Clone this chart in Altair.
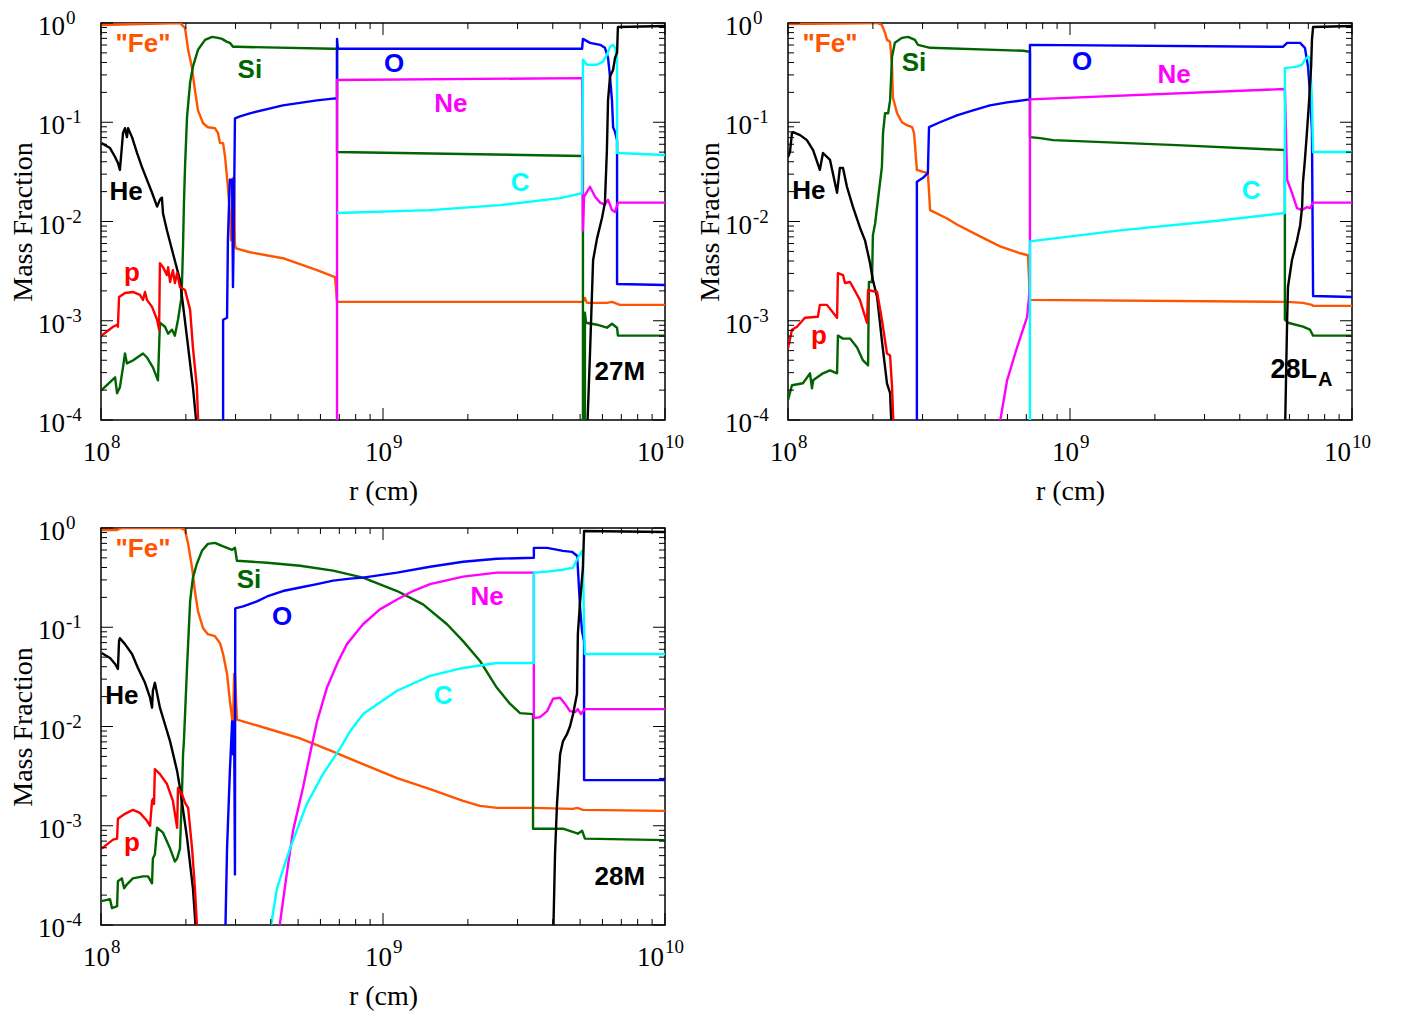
import altair as alt
import pandas as pd

# ---------------------------------------------------------------
# Data: (log10 r [cm], log10 mass fraction)
# ---------------------------------------------------------------

# ---- panel 1 : 27M ----
P1_FE = [(8.002, -0.02), (8.280, 0.0), (8.298, -0.05), (8.309, -0.27), (8.322, -0.44), (8.333, -0.675),
         (8.344, -0.88), (8.362, -1.01), (8.379, -1.05), (8.404, -1.06), (8.415, -1.11), (8.422, -1.21),
         (8.433, -1.21), (8.440, -1.35), (8.450, -1.65), (8.457, -1.92), (8.461, -2.19), (8.465, -2.11),
         (8.468, -1.56), (8.472, -1.56), (8.475, -2.24), (8.479, -2.27), (8.528, -2.31), (8.645, -2.37),
         (8.766, -2.49), (8.830, -2.56), (8.837, -2.81), (9.709, -2.81), (9.716, -2.77), (9.723, -2.82),
         (9.794, -2.82), (9.812, -2.81), (9.840, -2.84), (10.0, -2.84)]
P1_SI = [(8.002, -3.70), (8.050, -3.57), (8.057, -3.73), (8.067, -3.67), (8.078, -3.47), (8.085, -3.33),
         (8.092, -3.43), (8.113, -3.40), (8.149, -3.33), (8.163, -3.37), (8.184, -3.47), (8.202, -3.60),
         (8.209, -3.02), (8.227, -3.06), (8.238, -3.13), (8.252, -3.09), (8.262, -3.15), (8.273, -2.99),
         (8.284, -2.79), (8.287, -2.64), (8.291, -2.24), (8.294, -1.83), (8.298, -1.45), (8.305, -0.95),
         (8.316, -0.60), (8.326, -0.44), (8.344, -0.27), (8.369, -0.17), (8.394, -0.14), (8.415, -0.15),
         (8.429, -0.16), (8.447, -0.19), (8.457, -0.20), (8.468, -0.24), (8.482, -0.24), (8.823, -0.26),
         (8.837, -0.26), (8.837, -1.30), (9.709, -1.34), (9.709, -4.2), (9.716, -4.2), (9.716, -2.92),
         (9.720, -3.02), (9.759, -3.04), (9.794, -3.07), (9.812, -3.03), (9.830, -3.07), (9.833, -3.15),
         (10.0, -3.15)]
P1_O = [(8.433, -4.2), (8.433, -2.99), (8.447, -2.97), (8.450, -2.19), (8.457, -1.58), (8.465, -1.58),
        (8.468, -2.66), (8.472, -1.78), (8.475, -0.96), (8.493, -0.94), (8.528, -0.91), (8.645, -0.83),
        (8.766, -0.78), (8.830, -0.76), (8.837, -0.76), (8.837, -0.16), (8.840, -0.26), (9.706, -0.26),
        (9.709, -0.16), (9.734, -0.20), (9.770, -0.22), (9.787, -0.25), (9.798, -0.35), (9.805, -0.54),
        (9.812, -0.78), (9.816, -1.05), (9.823, -1.10), (9.830, -1.18), (9.830, -2.63), (10.0, -2.64)]
P1_NE = [(8.837, -4.2), (8.837, -0.575), (9.706, -0.555), (9.709, -2.09), (9.713, -1.75), (9.734, -1.65),
         (9.752, -1.75), (9.770, -1.81), (9.787, -1.83), (9.798, -1.78), (9.812, -1.885), (9.823, -1.905),
         (9.833, -1.81), (10.0, -1.81)]
P1_C = [(8.837, -1.915), (9.167, -1.885), (9.415, -1.835), (9.628, -1.765), (9.706, -1.715), (9.709, -0.37),
        (9.723, -0.42), (9.759, -0.42), (9.780, -0.39), (9.794, -0.32), (9.805, -0.24), (9.816, -0.22),
        (9.823, -0.25), (9.830, -0.35), (9.830, -1.31), (10.0, -1.33)]
P1_HE_IN = [(8.002, -1.21), (8.032, -1.26), (8.050, -1.35), (8.060, -1.41), (8.067, -1.48), (8.074, -1.25),
            (8.078, -1.11), (8.085, -1.06), (8.092, -1.15), (8.096, -1.06), (8.110, -1.15), (8.128, -1.31),
            (8.145, -1.45), (8.163, -1.58), (8.181, -1.71), (8.199, -1.85), (8.209, -1.78), (8.216, -1.76),
            (8.220, -1.92), (8.234, -2.09), (8.255, -2.32), (8.280, -2.59), (8.305, -3.17), (8.326, -3.67),
            (8.344, -4.2)]
P1_HE_OUT = [(9.723, -4.2), (9.734, -3.33), (9.745, -2.39), (9.759, -2.17), (9.777, -1.96), (9.787, -1.81),
             (9.794, -1.28), (9.798, -0.78), (9.805, -0.54), (9.816, -0.47), (9.823, -0.35), (9.830, -0.30),
             (9.833, -0.04), (10.0, -0.03)]
P1_P = [(8.002, -3.15), (8.043, -3.06), (8.057, -3.04), (8.060, -3.06), (8.064, -2.76), (8.085, -2.72),
        (8.113, -2.71), (8.138, -2.74), (8.149, -2.79), (8.156, -2.71), (8.163, -2.79), (8.181, -2.86),
        (8.199, -2.99), (8.206, -3.09), (8.209, -2.42), (8.220, -2.46), (8.234, -2.54), (8.238, -2.46),
        (8.245, -2.61), (8.255, -2.49), (8.262, -2.62), (8.270, -2.52), (8.280, -2.66), (8.298, -2.69),
        (8.316, -2.89), (8.326, -3.27), (8.340, -3.67), (8.347, -4.2)]

# ---- panel 2 : 28L_A ----
P2_FE = [(8.0, -0.01), (8.316, 0.0), (8.333, -0.02), (8.344, -0.10), (8.351, -0.17), (8.362, -0.19),
         (8.369, -0.44), (8.372, -0.75), (8.387, -0.91), (8.404, -1.0), (8.422, -1.03), (8.440, -1.05),
         (8.447, -1.11), (8.457, -1.48), (8.479, -1.50), (8.496, -1.51), (8.504, -1.885), (8.564, -1.97),
         (8.599, -2.03), (8.681, -2.15), (8.752, -2.25), (8.823, -2.32), (8.851, -2.34), (8.858, -2.79),
         (9.755, -2.81), (9.770, -2.81), (9.826, -2.82), (9.858, -2.84), (9.862, -2.85), (10.0, -2.85)]
P2_SI = [(8.0, -3.80), (8.014, -3.65), (8.053, -3.63), (8.078, -3.53), (8.085, -3.68), (8.089, -3.60),
         (8.124, -3.53), (8.149, -3.50), (8.174, -3.53), (8.177, -3.15), (8.195, -3.18), (8.220, -3.18),
         (8.245, -3.27), (8.266, -3.40), (8.284, -3.45), (8.287, -2.61), (8.298, -2.61), (8.301, -2.14),
         (8.309, -2.02), (8.319, -1.78), (8.333, -1.45), (8.337, -1.11), (8.344, -0.91), (8.355, -0.91),
         (8.362, -0.78), (8.369, -0.34), (8.379, -0.20), (8.404, -0.15), (8.426, -0.14), (8.450, -0.17),
         (8.461, -0.22), (8.504, -0.25), (8.833, -0.28), (8.858, -0.29), (8.858, -1.15), (8.894, -1.16),
         (8.940, -1.18), (9.379, -1.23), (9.762, -1.28), (9.762, -2.99), (9.773, -3.02), (9.826, -3.06),
         (9.851, -3.09), (9.862, -3.15), (10.0, -3.15)]
P2_O = [(8.457, -4.2), (8.457, -1.60), (8.479, -1.56), (8.496, -1.51), (8.500, -1.05), (8.539, -1.0),
        (8.599, -0.93), (8.656, -0.88), (8.716, -0.83), (8.777, -0.80), (8.858, -0.77), (8.858, -0.22),
        (9.755, -0.24), (9.770, -0.20), (9.816, -0.20), (9.833, -0.25), (9.844, -0.44), (9.851, -0.71),
        (9.858, -1.08), (9.862, -2.75), (10.0, -2.76)]
P2_NE = [(8.741, -4.2), (8.777, -3.60), (8.812, -3.27), (8.848, -2.96), (8.858, -2.66), (8.858, -0.77),
         (9.762, -0.665), (9.770, -1.58), (9.787, -1.71), (9.805, -1.865), (9.823, -1.885), (9.840, -1.855),
         (9.851, -1.865), (9.862, -1.81), (10.0, -1.81)]
P2_C = [(8.858, -4.2), (8.858, -2.20), (9.177, -2.09), (9.532, -1.99), (9.762, -1.915), (9.762, -0.455),
        (9.805, -0.44), (9.823, -0.42), (9.833, -0.37), (9.844, -0.34), (9.851, -0.35), (9.858, -0.78),
        (9.862, -1.30), (10.0, -1.30)]
P2_HE_IN = [(8.0, -1.35), (8.007, -1.30), (8.014, -1.11), (8.018, -1.10), (8.043, -1.13), (8.067, -1.18),
            (8.089, -1.28), (8.113, -1.48), (8.124, -1.31), (8.149, -1.38), (8.174, -1.71), (8.184, -1.46),
            (8.195, -1.46), (8.209, -1.65), (8.230, -1.85), (8.255, -2.06), (8.273, -2.19), (8.291, -2.42),
            (8.301, -2.59), (8.316, -2.76), (8.333, -3.20), (8.351, -3.63), (8.362, -3.73), (8.369, -4.2)]
P2_HE_OUT = [(9.762, -4.2), (9.770, -2.99), (9.773, -2.66), (9.787, -2.39), (9.805, -2.19), (9.816, -2.04),
             (9.823, -1.855), (9.826, -1.61), (9.833, -1.38), (9.840, -1.11), (9.848, -0.78), (9.855, -0.44),
             (9.858, -0.17), (9.862, -0.04), (10.0, -0.03)]
P2_P = [(8.0, -3.28), (8.014, -3.09), (8.032, -3.06), (8.060, -2.97), (8.106, -2.96), (8.113, -2.84),
        (8.138, -2.84), (8.174, -2.97), (8.177, -2.52), (8.195, -2.54), (8.202, -2.62), (8.220, -2.61),
        (8.230, -2.66), (8.255, -2.79), (8.280, -3.02), (8.284, -2.69), (8.316, -2.71), (8.333, -2.99),
        (8.351, -3.33), (8.362, -3.35), (8.369, -3.67), (8.376, -4.2)]

# ---- panel 3 : 28M ----
P3_FE = [(8.002, -0.02), (8.057, -0.02), (8.074, 0.0), (8.280, 0.0), (8.298, -0.02), (8.309, -0.16),
         (8.323, -0.40), (8.333, -0.635), (8.344, -0.84), (8.362, -1.01), (8.379, -1.07), (8.404, -1.09),
         (8.422, -1.16), (8.433, -1.27), (8.447, -1.47), (8.457, -1.74), (8.465, -1.915), (8.468, -2.05),
         (8.472, -1.47), (8.475, -1.47), (8.482, -1.93), (8.589, -2.02), (8.706, -2.12), (8.812, -2.24),
         (8.929, -2.38), (9.050, -2.52), (9.167, -2.63), (9.284, -2.75), (9.344, -2.80), (9.404, -2.82),
         (9.532, -2.82), (9.674, -2.83), (9.688, -2.82), (9.709, -2.84), (10.0, -2.85)]
P3_SI = [(8.002, -3.76), (8.032, -3.74), (8.039, -3.83), (8.057, -3.81), (8.060, -3.56), (8.074, -3.53),
         (8.082, -3.63), (8.092, -3.59), (8.113, -3.53), (8.149, -3.51), (8.167, -3.51), (8.181, -3.58),
         (8.184, -3.33), (8.191, -3.29), (8.199, -3.02), (8.220, -3.07), (8.245, -3.23), (8.262, -3.36),
         (8.270, -3.33), (8.280, -3.23), (8.287, -2.68), (8.291, -2.28), (8.294, -2.15), (8.305, -1.41),
         (8.316, -0.74), (8.326, -0.50), (8.340, -0.36), (8.358, -0.23), (8.379, -0.16), (8.404, -0.15),
         (8.429, -0.18), (8.447, -0.20), (8.465, -0.22), (8.475, -0.20), (8.482, -0.33), (8.589, -0.35),
         (8.706, -0.38), (8.823, -0.43), (8.929, -0.50), (9.050, -0.635), (9.142, -0.77), (9.227, -0.97),
         (9.284, -1.14), (9.344, -1.34), (9.404, -1.61), (9.450, -1.77), (9.486, -1.865), (9.532, -1.875),
         (9.532, -3.03), (9.546, -3.03), (9.638, -3.03), (9.681, -3.07), (9.691, -3.08), (9.706, -3.05),
         (9.716, -3.13), (10.0, -3.145)]
P3_O = [(8.440, -4.2), (8.447, -3.23), (8.457, -2.45), (8.465, -1.95), (8.468, -2.28), (8.472, -1.95),
        (8.475, -3.49), (8.476, -0.81), (8.504, -0.79), (8.553, -0.74), (8.589, -0.69), (8.645, -0.635),
        (8.706, -0.60), (8.766, -0.565), (8.823, -0.53), (8.883, -0.51), (8.929, -0.50), (9.050, -0.45),
        (9.167, -0.39), (9.284, -0.34), (9.404, -0.31), (9.535, -0.30), (9.535, -0.20), (9.582, -0.20),
        (9.638, -0.23), (9.670, -0.24), (9.688, -0.28), (9.691, -0.40), (9.699, -0.81), (9.706, -1.04),
        (9.713, -1.14), (9.713, -2.54), (10.0, -2.54)]
P3_NE = [(8.624, -4.2), (8.660, -3.46), (8.681, -3.05), (8.716, -2.62), (8.741, -2.28), (8.766, -1.95),
         (8.801, -1.61), (8.840, -1.35), (8.872, -1.17), (8.929, -0.97), (8.989, -0.82), (9.050, -0.72),
         (9.106, -0.635), (9.167, -0.565), (9.284, -0.49), (9.404, -0.45), (9.535, -0.45), (9.535, -1.915),
         (9.557, -1.905), (9.582, -1.845), (9.603, -1.72), (9.628, -1.71), (9.645, -1.77), (9.663, -1.845),
         (9.681, -1.855), (9.691, -1.825), (9.702, -1.875), (9.709, -1.845), (9.716, -1.825), (10.0, -1.825)]
P3_C = [(8.592, -4.2), (8.624, -3.63), (8.670, -3.23), (8.730, -2.78), (8.787, -2.48), (8.848, -2.22),
        (8.883, -2.05), (8.929, -1.875), (9.050, -1.64), (9.167, -1.49), (9.284, -1.41), (9.404, -1.36),
        (9.535, -1.36), (9.535, -0.45), (9.582, -0.44), (9.638, -0.42), (9.674, -0.40), (9.691, -0.30),
        (9.706, -0.23), (9.709, -0.33), (9.713, -1.01), (9.716, -1.27), (10.0, -1.27)]
P3_HE_IN = [(8.002, -1.26), (8.032, -1.31), (8.050, -1.37), (8.060, -1.42), (8.064, -1.14), (8.067, -1.11),
            (8.085, -1.17), (8.110, -1.27), (8.131, -1.41), (8.156, -1.56), (8.174, -1.71), (8.181, -1.81),
            (8.184, -1.64), (8.191, -1.56), (8.199, -1.67), (8.209, -1.81), (8.227, -1.98), (8.245, -2.15),
            (8.270, -2.45), (8.280, -2.62), (8.305, -3.12), (8.326, -3.63), (8.340, -4.2)]
P3_HE_OUT = [(9.603, -4.2), (9.610, -3.29), (9.617, -2.78), (9.628, -2.28), (9.638, -2.15), (9.652, -2.08),
             (9.663, -2.0), (9.674, -1.875), (9.688, -1.67), (9.691, -1.07), (9.699, -0.74), (9.706, -0.50),
             (9.709, -0.40), (9.713, -0.03), (10.0, -0.04)]
P3_P = [(8.002, -3.23), (8.043, -3.14), (8.057, -3.13), (8.060, -2.93), (8.085, -2.88), (8.113, -2.84),
        (8.138, -2.87), (8.163, -2.95), (8.174, -3.0), (8.181, -2.75), (8.184, -2.73), (8.188, -2.78),
        (8.191, -2.43), (8.209, -2.48), (8.234, -2.58), (8.255, -2.75), (8.270, -3.02), (8.273, -2.62),
        (8.287, -2.68), (8.298, -2.77), (8.309, -2.82), (8.323, -3.23), (8.333, -3.63), (8.344, -4.2)]

# ---- in-panel labels: (text, species colour key, log10 r, log10 X) ----
P1_LABELS = [('"Fe"', "Fe", 8.149, -0.212), ("Si", "Si", 8.528, -0.474), ("O", "O", 9.039, -0.413),
             ("Ne", "Ne", 9.241, -0.817), ("C", "C", 9.486, -1.613), ("He", "He", 8.089, -1.704),
             ("p", "p", 8.110, -2.52), ("27M", "He", 9.840, -3.518)]
P2_LABELS = [('"Fe"', "Fe", 8.149, -0.212), ("Si", "Si", 8.447, -0.403), ("O", "O", 9.043, -0.393),
             ("Ne", "Ne", 9.369, -0.524), ("C", "C", 9.642, -1.694), ("He", "He", 8.074, -1.694),
             ("p", "p", 8.110, -3.155)]
P3_LABELS = [('"Fe"', "Fe", 8.149, -0.212), ("Si", "Si", 8.525, -0.524), ("O", "O", 8.642, -0.897),
             ("Ne", "Ne", 9.369, -0.696), ("C", "C", 9.213, -1.694), ("He", "He", 8.074, -1.694),
             ("p", "p", 8.110, -3.175), ("28M", "He", 9.840, -3.518)]
P2_NAME = ("28L", "A", 9.876, -3.498, -3.60)

# ---- axes ----
X_MAJOR = [1e8, 1e9, 1e10]
X_MAJOR_EXP = ["8", "9", "10"]
X_MINOR = [2e8, 3e8, 4e8, 5e8, 6e8, 7e8, 8e8, 9e8, 2e9, 3e9, 4e9, 5e9, 6e9, 7e9, 8e9, 9e9]
Y_MAJOR = [1.0, 1e-1, 1e-2, 1e-3, 1e-4]
Y_MAJOR_EXP = ["0", "-1", "-2", "-3", "-4"]
Y_MINOR = [m * d for d in (1e-4, 1e-3, 1e-2, 1e-1) for m in (2, 3, 4, 5, 6, 7, 8, 9)]

COLORS = {"Fe": "#FF5500", "Si": "#006400", "O": "#0000FF", "Ne": "#FF00FF",
          "C": "#00FFFF", "He": "#000000", "p": "#FF0000"}

W, H = 564, 397
SERIF = "Liberation Serif"
SANS = "Liberation Sans"

XAX = alt.Axis(labels=False, ticks=False, domain=False, grid=False, title="r (cm)",
               titleFont=SERIF, titleFontSize=28, titleFontWeight="normal", titleColor="black",
               titlePadding=57)
YAX = alt.Axis(labels=False, ticks=False, domain=False, grid=False, title="Mass Fraction",
               titleFont=SERIF, titleFontSize=28, titleFontWeight="normal", titleColor="black",
               titlePadding=64)
XS = alt.Scale(type="log", domain=[1e8, 1e10], nice=False)
YS = alt.Scale(type="log", domain=[1e-4, 1], nice=False)


def enc_x():
    return alt.X("r:Q", scale=XS, axis=XAX)


def enc_y():
    return alt.Y("X:Q", scale=YS, axis=YAX)


def panel(series, labels, name=None):
    rows = []
    for sp, seg, pts in series:
        for i, (lr, lx) in enumerate(pts):
            rows.append({"sp": sp, "seg": seg, "i": i, "r": 10 ** lr, "X": 10 ** lx})
    df = pd.DataFrame(rows)

    lines = alt.Chart(df).mark_line(clip=True, strokeWidth=2.4, strokeJoin="round").encode(
        x=enc_x(), y=enc_y(),
        color=alt.Color("sp:N", scale=alt.Scale(domain=list(COLORS), range=list(COLORS.values())),
                        legend=None),
        detail="seg:N", order="i:Q")

    ldf = pd.DataFrame([{"t": t, "c": COLORS[k], "r": 10 ** lr, "X": 10 ** lx}
                        for t, k, lr, lx in labels])
    lab = alt.Chart(ldf).mark_text(font=SANS, fontWeight="bold", fontSize=26,
                                   align="center", baseline="middle").encode(
        x=enc_x(), y=enc_y(), text="t:N", color=alt.Color("c:N", scale=None))

    xmaj = pd.DataFrame({"r": X_MAJOR, "e": X_MAJOR_EXP})
    xmin = pd.DataFrame({"r": X_MINOR})
    ymaj = pd.DataFrame({"X": Y_MAJOR, "e": Y_MAJOR_EXP})
    ymin = pd.DataFrame({"X": Y_MINOR})

    def rule(d):
        return alt.Chart(d).mark_rule(color="black", strokeWidth=1)

    ticks = [
        rule(xmaj).encode(x=enc_x(), y=alt.value(H), y2=alt.value(H - 12)),
        rule(xmaj).encode(x=enc_x(), y=alt.value(0), y2=alt.value(12)),
        rule(xmin).encode(x=enc_x(), y=alt.value(H), y2=alt.value(H - 6)),
        rule(xmin).encode(x=enc_x(), y=alt.value(0), y2=alt.value(6)),
        rule(ymaj).encode(y=enc_y(), x=alt.value(0), x2=alt.value(12)),
        rule(ymaj).encode(y=enc_y(), x=alt.value(W), x2=alt.value(W - 12)),
        rule(ymin).encode(y=enc_y(), x=alt.value(0), x2=alt.value(6)),
        rule(ymin).encode(y=enc_y(), x=alt.value(W), x2=alt.value(W - 6)),
    ]

    # tick labels "10" + superscript exponent
    xs1 = xmaj[xmaj.e.str.len() == 1]
    xs2 = xmaj[xmaj.e.str.len() == 2]
    tl = []
    for d, dx in ((xs1, 9), (xs2, -1)):
        tl.append(alt.Chart(d).mark_text(font=SERIF, fontSize=27, align="right", baseline="alphabetic",
                                         dx=dx, color="black").encode(
            x=enc_x(), y=alt.value(H + 41), text=alt.value("10")))
        tl.append(alt.Chart(d).mark_text(font=SERIF, fontSize=19, align="left", baseline="alphabetic",
                                         dx=dx + 1, color="black").encode(
            x=enc_x(), y=alt.value(H + 28), text="e:N"))
    tl.append(alt.Chart(ymaj).mark_text(font=SERIF, fontSize=27, align="right", baseline="alphabetic",
                                        dy=12, color="black").encode(
        y=enc_y(), x=alt.value(-36), text=alt.value("10")))
    tl.append(alt.Chart(ymaj).mark_text(font=SERIF, fontSize=19, align="left", baseline="alphabetic",
                                        dy=1, color="black").encode(
        y=enc_y(), x=alt.value(-35), text="e:N"))

    layers = [lines] + ticks + tl + [lab]
    if name is not None:
        base, sub, lr, ly1, ly2 = name
        ndf = pd.DataFrame({"r": [10 ** lr], "X": [10 ** ly1], "X2": [10 ** ly2], "b": [base], "s": [sub]})
        layers.append(alt.Chart(ndf).mark_text(font=SANS, fontWeight="bold", fontSize=27, align="right",
                                               baseline="middle", color="black").encode(
            x=enc_x(), y=enc_y(), text="b:N"))
        layers.append(alt.Chart(ndf).mark_text(font=SANS, fontWeight="bold", fontSize=20, align="left",
                                               baseline="middle", dx=1, color="black").encode(
            x=enc_x(), y=alt.Y("X2:Q", scale=YS, axis=YAX), text="s:N"))
    return alt.layer(*layers).properties(width=W, height=H)


p1 = panel([("Fe", "Fe", P1_FE), ("Si", "Si", P1_SI), ("O", "O", P1_O), ("Ne", "Ne", P1_NE),
            ("C", "C", P1_C), ("He", "He1", P1_HE_IN), ("He", "He2", P1_HE_OUT), ("p", "p", P1_P)],
           P1_LABELS)
p2 = panel([("Fe", "Fe", P2_FE), ("Si", "Si", P2_SI), ("O", "O", P2_O), ("Ne", "Ne", P2_NE),
            ("C", "C", P2_C), ("He", "He1", P2_HE_IN), ("He", "He2", P2_HE_OUT), ("p", "p", P2_P)],
           P2_LABELS, P2_NAME)
p3 = panel([("Fe", "Fe", P3_FE), ("Si", "Si", P3_SI), ("O", "O", P3_O), ("Ne", "Ne", P3_NE),
            ("C", "C", P3_C), ("He", "He1", P3_HE_IN), ("He", "He2", P3_HE_OUT), ("p", "p", P3_P)],
           P3_LABELS)

chart = alt.concat(p1, p2, p3, columns=2, spacing={"row": 108, "column": 123}, bounds="flush").properties(
    padding={"left": 0, "top": 0, "right": 5, "bottom": 5}, background="white"
).configure_view(stroke="black", strokeWidth=1.5)

chart.save("out.html", embed_options={"renderer": "svg", "actions": False})
